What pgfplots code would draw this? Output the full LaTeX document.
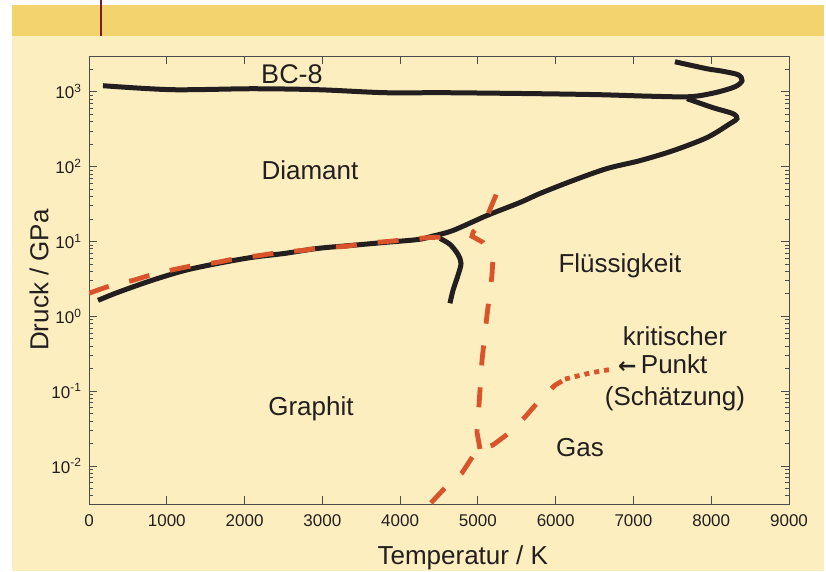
\documentclass[border=0pt]{standalone}
\usepackage{fontspec}
\setmainfont{Liberation Sans}
\newfontfamily\djv{DejaVu Sans}
\usepackage{pgfplots}
\pgfplotsset{compat=1.18}
\definecolor{cream}{HTML}{FDEEC0}
\definecolor{strip}{HTML}{F2D36E}
\definecolor{maroon}{HTML}{7B1C2E}
\definecolor{org}{HTML}{D9542B}
\definecolor{blk}{HTML}{231F20}
\definecolor{axgray}{HTML}{4D4D4D}
\begin{document}
\begin{tikzpicture}
\useasboundingbox (0pt,0pt) rectangle (826pt,-571pt);
\fill[white] (0pt,0pt) rectangle (826pt,-571pt);
\fill[cream] (12pt,-5pt) rectangle (824pt,-571pt);
\fill[strip] (12pt,-5pt) rectangle (824pt,-36pt);
\draw[maroon, line width=1.2pt] (101pt,0pt) -- (101pt,-36pt);
\begin{axis}[
  at={(89pt,-504pt)}, anchor=south west,
  scale only axis, width=700pt, height=448pt,
  ymode=log, xmin=0, xmax=9000, ymin=3.1e-3, ymax=3000,
  axis line style={axgray, line width=0.9pt},
  tick align=inside, tick pos=both,
  major tick length=8pt, minor tick length=4pt,
  major tick style={axgray, line width=0.8pt},
  minor tick style={axgray, line width=0.6pt},
  xtick={0,1000,2000,3000,4000,5000,6000,7000,8000,9000},
  xticklabels={0,1000,2000,3000,4000,5000,6000,7000,8000,9000},
  ytick={1e-2,1e-1,1,10,100,1000},
  yticklabels={10\textsuperscript{-2},10\textsuperscript{-1},10\textsuperscript{0},10\textsuperscript{1},10\textsuperscript{2},10\textsuperscript{3}},
  minor ytick={4e-3,5e-3,6e-3,7e-3,8e-3,9e-3,2e-2,3e-2,4e-2,5e-2,6e-2,7e-2,8e-2,9e-2,0.2,0.3,0.4,0.5,0.6,0.7,0.8,0.9,2,3,4,5,6,7,8,9,20,30,40,50,60,70,80,90,200,300,400,500,600,700,800,900,2000},
  tick label style={font=\fontsize{17}{20}\selectfont, text=blk},
  xticklabel style={yshift=-7pt},
  yticklabel style={xshift=-4pt},
  xlabel={Temperatur / K},
  ylabel={Druck / GPa},
  label style={font=\fontsize{26}{31}\selectfont, text=blk},
  xlabel style={at={(axis description cs:0.534,-0.136)}, anchor=base},
  ylabel style={at={(axis description cs:-0.0714,0.5)}, anchor=center},
  /pgf/number format/assume math mode=true,
]
% BC-8 / diamond boundary with upper arc
\addplot[blk, line width=5pt, smooth, tension=0.5] coordinates {
(180,1203) (1067,1064) (2096,1096) (2944,1064) (3806,970) (4577,970)
(5799,940) (6570,912) (7213,871) (7727,858) (8049,970) (8306,1166)
(8396,1403) (8344,1686) (8113,1905) (7946,2026) (7534,2512)};
% diamond/liquid and graphite/diamond boundary
\addplot[blk, line width=5pt, smooth, tension=0.5] coordinates {
(7689,807) (8023,612) (8280,509) (8331,437) (8241,374) (7946,244)
(7509,163) (7084,120) (6660,94.1) (6223,65.1) (5799,43.7) (5541,33.1)
(5117,22.2) (4680,14.0) (4410,11.7) (4230,10.6) (3806,9.70) (3381,8.85)
(2944,8.07) (2520,6.92) (2096,6.12) (1659,5.09) (1234,4.10) (810,3.02)
(373,2.09) (116,1.63)};
% graphite melting
\addplot[blk, line width=5pt, smooth, tension=0.5] coordinates {
(4513,10.96) (4641,9.12) (4744,6.71) (4783,5.09) (4744,3.52) (4680,2.22) (4641,1.49)};
% orange dashed: graphite/diamond
\addplot[org, line width=4.8pt, smooth, tension=0.5, dash pattern=on 21pt off 21pt] coordinates {
(0,2.03) (296,2.59) (566,3.02) (823,3.63) (1106,4.24) (1363,4.79) (1646,5.25)
(1903,5.93) (2199,6.5) (2456,7.13) (2751,7.59) (3009,8.32) (3291,8.58)
(3549,9.40) (3844,10.0) (4101,10.6) (4410,11.3) (4667,11.3)};
% orange dashed: melting line
\addplot[org, line width=4.8pt, dash pattern=on 20pt off 22pt] coordinates {
(5027,0.01686) (4988,0.0284) (5014,0.0650) (5053,0.259) (5117,1.03)
(5181,3.52) (5194,5.93) (5066,9.70) (4924,11.7) (4937,13.2) (5117,21.5) (5284,55.8)};
% orange dashed: liquid/gas
\addplot[org, line width=4.8pt, dash pattern=on 20pt off 22pt] coordinates {
(4397,0.00321) (4577,0.00509) (4796,0.00807) (4937,0.0136) (5027,0.0163)
(5194,0.01905) (5400,0.0275) (5606,0.045) (5773,0.0714) (5991,0.120) (6081,0.136)};
% orange dotted: estimate
\addplot[org, line width=4.8pt, dash pattern=on 5pt off 5pt, smooth] coordinates {
(6120,0.1445) (6441,0.174) (6737,0.197)};
% labels
\node[anchor=base, inner sep=0pt, text=blk, font=\fontsize{27}{32}\selectfont] at (axis cs:2610,1279) {BC-8};
\node[anchor=base, inner sep=0pt, text=blk, font=\fontsize{26}{31}\selectfont] at (axis cs:2841,67.1) {Diamant};
\node[anchor=base, inner sep=0pt, text=blk, font=\fontsize{26}{31}\selectfont] at (axis cs:6827,3.86) {Flüssigkeit};
\node[anchor=base, inner sep=0pt, text=blk, font=\fontsize{26}{31}\selectfont] at (axis cs:2854,0.0479) {Graphit};
\node[anchor=base, inner sep=0pt, text=blk, font=\fontsize{26}{31}\selectfont] at (axis cs:6313,0.01318) {Gas};
\node[anchor=base, inner sep=0pt, text=blk, font=\fontsize{26}{31}\selectfont] at (axis cs:7534,0.410) {kritischer};
\node[anchor=base west, inner sep=0pt, text=blk, font=\fontsize{26}{31}\selectfont] at (axis cs:6801,0.174) {{\djv\bfseries\fontsize{22}{26}\selectfont ←}\,Punkt};
\node[anchor=base, inner sep=0pt, text=blk, font=\fontsize{26}{31}\selectfont] at (axis cs:7534,0.065) {(Schätzung)};
\end{axis}
\end{tikzpicture}
\end{document}
